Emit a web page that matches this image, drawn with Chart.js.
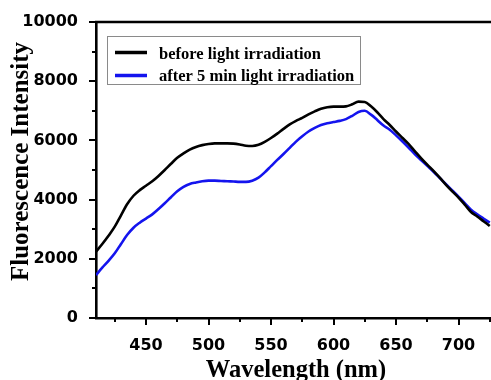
<!DOCTYPE html>
<html>
<head>
<meta charset="utf-8">
<script src="https://cdn.jsdelivr.net/npm/chart.js@4.4.1/dist/chart.umd.min.js"></script>
<style>
  html, body { margin: 0; padding: 0; background: #ffffff; }
  #wrap { width: 491px; height: 380px; position: relative; }
  canvas { display: block; }
</style>
</head>
<body>
<div id="wrap"><canvas id="c" width="491" height="380"></canvas></div>
<script>
// ---- data ----
const wavelengths = [410,415,420,425,430,435,440,445,450,455,460,465,470,475,480,485,490,495,500,505,510,515,520,525,530,535,540,545,550,555,560,565,570,575,580,585,590,595,600,605,610,615,620,625,630,635,640,645,650,655,660,665,670,675,680,685,690,695,700,705,710,715,720,725];
const beforeIrradiation = [2240,2500,2780,3085,3470,3850,4130,4320,4470,4620,4800,5000,5210,5410,5560,5690,5780,5840,5880,5900,5900,5900,5890,5860,5820,5810,5850,5950,6080,6230,6390,6540,6660,6760,6880,6980,7070,7120,7140,7140,7150,7220,7310,7300,7150,6950,6720,6520,6300,6090,5880,5640,5400,5180,4970,4740,4500,4280,4070,3830,3580,3430,3270,3110];
const afterIrradiation = [1450,1700,1930,2185,2500,2810,3050,3220,3360,3500,3680,3875,4080,4280,4430,4530,4580,4620,4640,4640,4630,4620,4610,4600,4600,4640,4740,4920,5130,5340,5540,5750,5960,6140,6300,6420,6520,6580,6620,6660,6720,6830,6960,7000,6870,6690,6500,6360,6170,5970,5760,5540,5340,5140,4940,4730,4520,4310,4100,3880,3660,3500,3360,3220];
const seriesLabels = ["before light irradiation", "after 5 min light irradiation"];
const xMajorTicks = [450,500,550,600,650,700];
const xMinorTicks = [425,475,525,575,625,675,725];
const yMajorTicks = [0,2000,4000,6000,8000,10000];
const yMinorTicks = [1000,3000,5000,7000,9000];
const xTitle = "Wavelength (nm)";
const yTitle = "Fluorescence Intensity";

const toPoints = (xs, ys) => xs.map((x, i) => ({x: x, y: ys[i]}));

const tickFont = {family: "'DejaVu Sans'", size: 16, weight: 'bold'};

const decorPlugin = {
  id: 'decor',
  afterDraw(chart) {
    const ctx = chart.ctx;
    const xs = chart.scales.x, ys = chart.scales.y;
    const area = chart.chartArea;
    ctx.save();
    ctx.strokeStyle = '#000';
    ctx.lineWidth = 2;
    xMajorTicks.forEach(v => {
      const p = Math.round(xs.getPixelForValue(v));
      ctx.beginPath(); ctx.moveTo(p, area.bottom); ctx.lineTo(p, area.bottom + 7); ctx.stroke();
    });
    xMinorTicks.forEach(v => {
      const p = Math.round(xs.getPixelForValue(v));
      ctx.beginPath(); ctx.moveTo(p, area.bottom); ctx.lineTo(p, area.bottom + 4); ctx.stroke();
    });
    yMajorTicks.forEach(v => {
      const p = Math.round(ys.getPixelForValue(v));
      ctx.beginPath(); ctx.moveTo(area.left - 7, p); ctx.lineTo(area.left, p); ctx.stroke();
    });
    yMinorTicks.forEach(v => {
      const p = Math.round(ys.getPixelForValue(v));
      ctx.beginPath(); ctx.moveTo(area.left - 4, p); ctx.lineTo(area.left, p); ctx.stroke();
    });
    // top border
    ctx.lineWidth = 2.6;
    ctx.beginPath(); ctx.moveTo(area.left - 1, area.top); ctx.lineTo(chart.width, area.top); ctx.stroke();

    // titles
    ctx.fillStyle = '#000';
    ctx.textAlign = 'center';
    ctx.textBaseline = 'alphabetic';
    ctx.font = "bold 24.5px 'Liberation Serif'";
    ctx.fillText(xTitle, 296, 377);
    ctx.save();
    ctx.translate(27.5, 161.5);
    ctx.rotate(-Math.PI / 2);
    ctx.font = "bold 25px 'Liberation Serif'";
    ctx.fillText(yTitle, 0, 0);
    ctx.restore();

    // legend
    ctx.lineWidth = 1;
    ctx.strokeStyle = '#8a8a8a';
    ctx.strokeRect(107.5, 36.5, 253, 48);
    const ds = chart.data.datasets;
    const rowsLine = [52.5, 75.5];
    const rowsText = [58.5, 81];
    ctx.font = "bold 16.5px 'Liberation Serif'";
    ctx.textAlign = 'left';
    ds.forEach((d, i) => {
      ctx.strokeStyle = d.borderColor;
      ctx.lineWidth = 3.5;
      ctx.beginPath(); ctx.moveTo(115, rowsLine[i]); ctx.lineTo(147, rowsLine[i]); ctx.stroke();
      ctx.fillStyle = '#000';
      ctx.fillText(d.label, 159, rowsText[i]);
    });
    ctx.restore();
  }
};

new Chart(document.getElementById('c'), {
  type: 'line',
  data: {
    datasets: [
      {label: seriesLabels[0], data: toPoints(wavelengths, beforeIrradiation), borderColor: '#000000', borderWidth: 2.6, pointRadius: 0, cubicInterpolationMode: 'monotone', fill: false},
      {label: seriesLabels[1], data: toPoints(wavelengths, afterIrradiation), borderColor: '#1414ee', borderWidth: 2.6, pointRadius: 0, cubicInterpolationMode: 'monotone', fill: false}
    ]
  },
  options: {
    responsive: false,
    animation: false,
    devicePixelRatio: 1,
    layout: {padding: {left: 0, top: 22, right: 0, bottom: 0}},
    plugins: {legend: {display: false}, tooltip: {enabled: false}, title: {display: false}},
    scales: {
      x: {
        type: 'linear', min: 410, max: 726,
        afterBuildTicks: s => { s.ticks = xMajorTicks.map(v => ({value: v})); },
        afterFit: s => { s.height = 62; },
        grid: {display: false},
        border: {display: true, color: '#000', width: 2.6},
        ticks: {font: tickFont, color: '#000', padding: 10, maxRotation: 0, autoSkip: false, callback: v => String(v)}
      },
      y: {
        type: 'linear', min: 0, max: 10000,
        afterBuildTicks: s => { s.ticks = yMajorTicks.map(v => ({value: v})); },
        afterFit: s => { s.width = 96; },
        grid: {display: false},
        border: {display: true, color: '#000', width: 2.6},
        ticks: {font: tickFont, color: '#000', padding: 10, autoSkip: false, callback: v => String(v)}
      }
    }
  },
  plugins: [decorPlugin]
});
</script>
</body>
</html>
